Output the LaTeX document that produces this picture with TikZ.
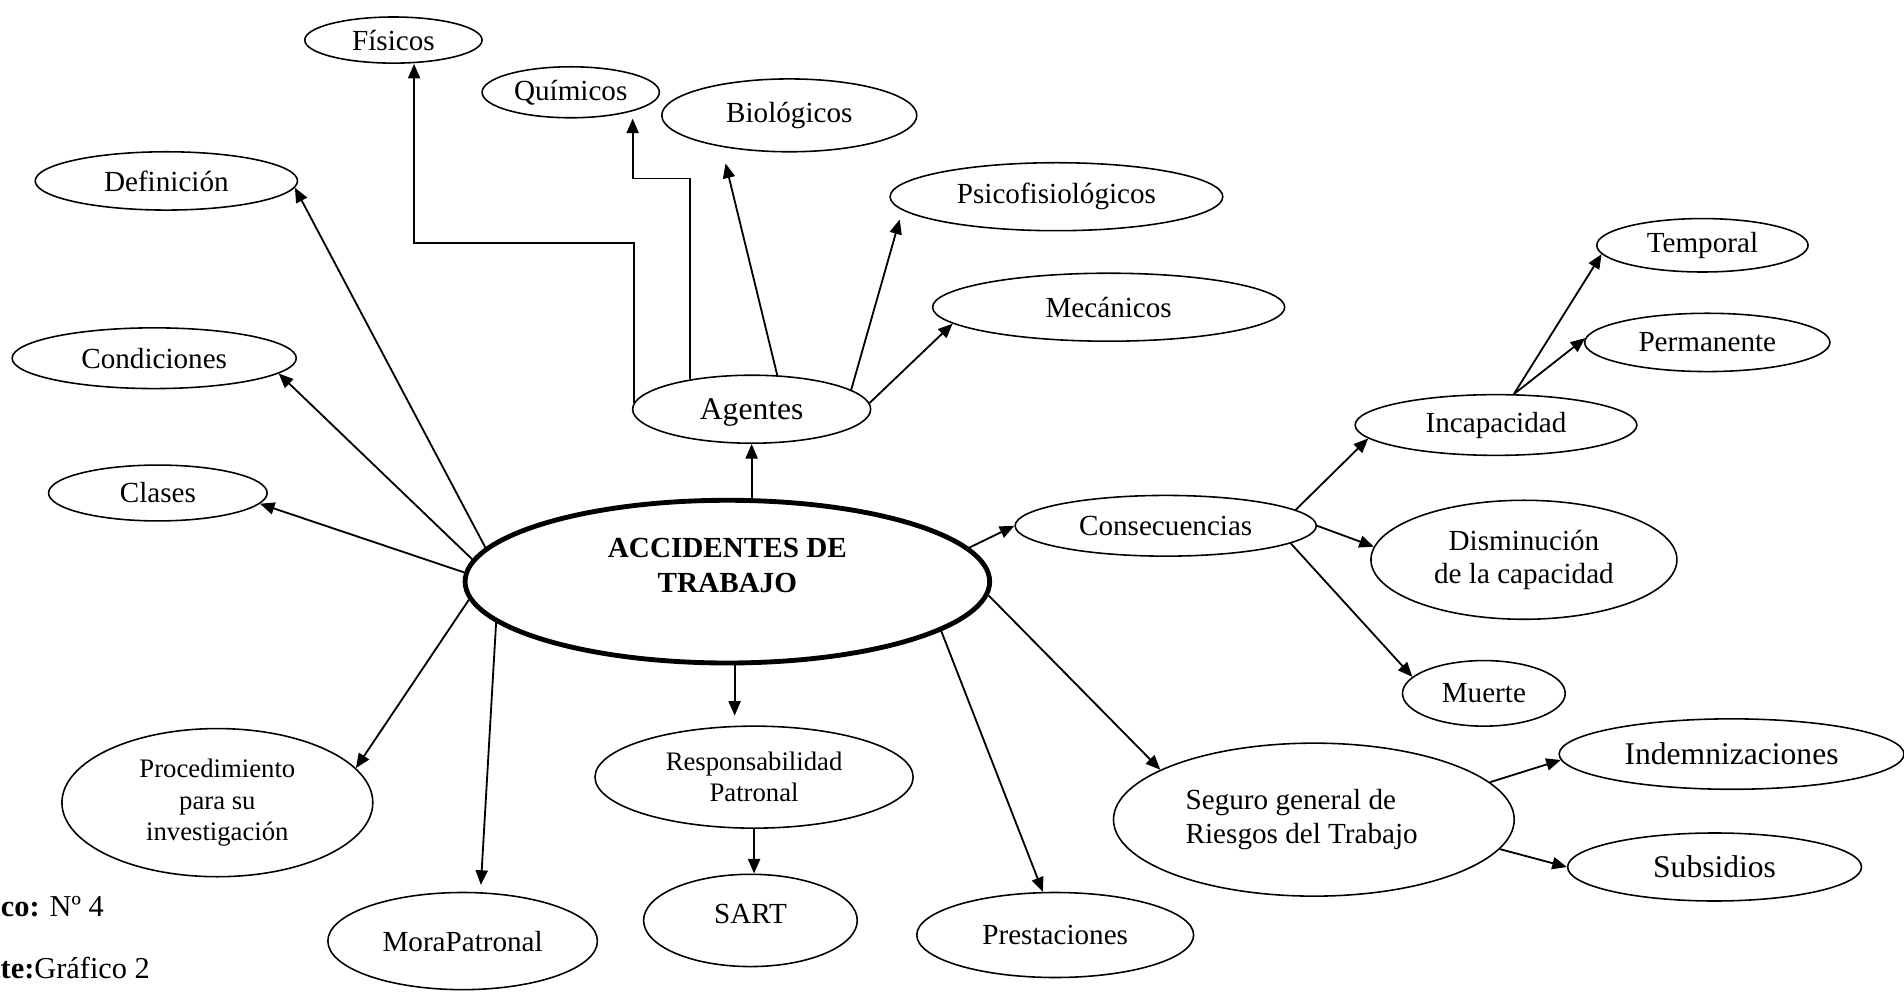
\documentclass[tikz,border=0pt]{standalone}
\usepackage{fontspec}
\setmainfont{Liberation Serif}
\usetikzlibrary{arrows.meta,shapes.geometric}
\begin{document}
\begin{tikzpicture}[x=0.5pt,y=-0.5pt,
  el/.style={ellipse,draw,line width=0.65pt,inner sep=0pt,align=center,font=\fontsize{12}{13.8}\selectfont},
  big/.style={font=\fontsize{13}{15}\selectfont},
  small/.style={font=\fontsize{11}{12.8}\selectfont},
  arr/.style={line width=0.75pt,-{Triangle[length=6pt,width=5pt]}}]
\useasboundingbox (0,0) rectangle (1568,817);
\clip (0,0) rectangle (1568,817);
% nodes
\node[el,minimum width=73pt,minimum height=19pt] (fis) at (324,33) {Físicos};
\node[el,minimum width=73pt,minimum height=21pt] (qui) at (470,76) {Químicos};
\node[el,minimum width=105pt,minimum height=30pt] (bio) at (650,95) {Biológicos};
\node[el,minimum width=108pt,minimum height=24pt] (def) at (137,149) {Definición};
\node[el,minimum width=137pt,minimum height=28pt] (psi) at (870,162) {Psicofisiológicos};
\node[el,minimum width=145pt,minimum height=28pt] (mec) at (913,253) {Mecánicos};
\node[el,minimum width=117pt,minimum height=25pt] (con) at (127,295) {Condiciones};
\node[el,big,minimum width=98pt,minimum height=28pt] (ag) at (619,337) {\raisebox{-1.5pt}[\height][\depth]{Agentes}};
\node[el,minimum width=87pt,minimum height=22pt] (tem) at (1402,202) {Temporal};
\node[el,minimum width=101pt,minimum height=24pt] (per) at (1406,282) {Permanente};
\node[el,minimum width=116pt,minimum height=25pt] (inc) at (1232,350) {Incapacidad};
\node[el,minimum width=124pt,minimum height=25pt] (cons) at (960,433) {Consecuencias};
\node[el,minimum width=126pt,minimum height=49pt] (dis) at (1255,461) {Disminución\\de la capacidad};
\node[el,minimum width=67pt,minimum height=27pt] (mu) at (1222,571) {Muerte};
\node[el,minimum width=90pt,minimum height=23pt] (cla) at (130,406) {Clases};
\node[el,line width=2pt,minimum width=216pt,minimum height=67pt,font=\fontsize{12}{14.5}\bfseries] (acc) at (599,479) {\raisebox{5.5pt}[\height][\depth]{\begin{tabular}{@{}c@{}}ACCIDENTES DE\\TRABAJO\end{tabular}}};
\node[el,small,minimum width=128pt,minimum height=61pt] (pro) at (179,661) {Procedimiento\\para su\\investigación};
\node[el,small,minimum width=131pt,minimum height=42pt] (resp) at (621,640) {Responsabilidad\\Patronal};
\node[el,minimum width=88pt,minimum height=38pt] (sart) at (618,758) {\raisebox{2.5pt}[\height][\depth]{SART}};
\node[el,minimum width=111pt,minimum height=40pt] (mora) at (381,775) {MoraPatronal};
\node[el,minimum width=114pt,minimum height=35pt] (pre) at (869,770) {Prestaciones};
\node[el,align=left,minimum width=165pt,minimum height=63pt] (seg) at (1082,675) {Seguro general de\\Riesgos del Trabajo\hspace*{10pt}};
\node[el,big,minimum width=142pt,minimum height=29pt] (ind) at (1426,621) {Indemnizaciones};
\node[el,big,minimum width=121pt,minimum height=28pt] (sub) at (1412,714) {Subsidios};
% caption (cut by the page edge, as in the reference)
\node[anchor=base west,inner sep=0pt,font=\fontsize{12.5}{14}\selectfont] (cap1) at (-58,755) {\textbf{Gráfico:} Nº 4};
\node[anchor=base west,inner sep=0pt,font=\fontsize{12.5}{14}\selectfont] (cap2) at (-54,806) {\textbf{Fuente:}Gráfico 2};
% bend points
\coordinate (f1) at (341,200);
\coordinate (q1) at (521,147);
% connectors
\draw[arr] (ag.177) |- (f1) -- (f1 |- fis.south);
\draw[arr] (ag.154) |- (q1) -- (q1 |- qui.south);
\draw[arr,shorten >=7pt] (ag.53) -- (bio.205);
\draw[arr,shorten >=4pt] (ag.11) -- (psi.185);
\draw[arr] (ag.3) -- (mec.186);
\draw[arr] (ag.south |- acc.north) -- (ag.south);
\draw[arr] (acc.172) -- (def.357);
\draw[arr] (acc.175) -- (con.353);
\draw[arr] (acc.178) -- (cla.354);
\draw[arr] (acc.184) -- (pro.14);
\draw[arr,shorten >=3pt] (acc.190) -- (mora.70);
\draw[arr,shorten >=4pt] ([xshift=3pt]acc.south) -- ([xshift=3pt]acc.south |- resp.north);
\draw[arr] (resp.south) -- (resp.south |- sart.north);
\draw[arr] (acc.347.5) -- (pre.106);
\draw[arr] (acc.357) -- (seg.162);
\draw[arr] (acc.8) -- (cons.west);
\draw[arr] (cons.7) -- (inc.186);
\draw[arr] (cons.east) -- (dis.175);
\draw[arr] (cons.352) -- (mu.167);
\draw[arr] (inc.60) -- (tem.185);
\draw[arr] (inc.60) -- (per.178);
\draw[arr] (seg.12) -- (ind.182);
\draw[arr] (seg.351) -- (sub.west);
\end{tikzpicture}
\end{document}
